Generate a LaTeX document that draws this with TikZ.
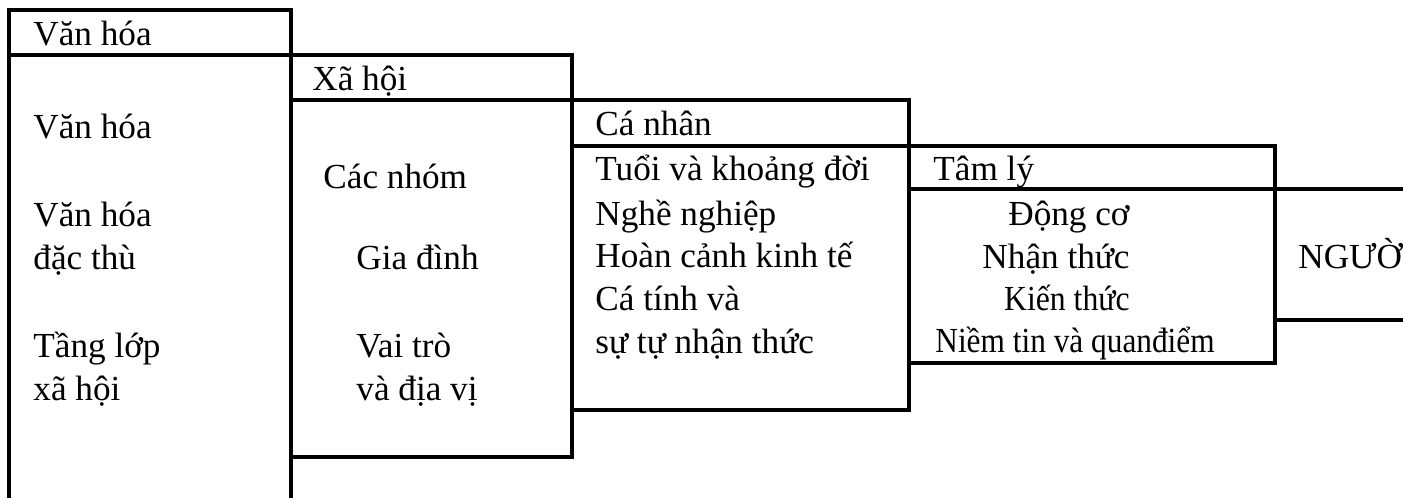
\documentclass[tikz,border=0pt]{standalone}
\usepackage{fontspec}
\setmainfont{Liberation Serif}
\usepackage{graphicx}
\begin{document}
\begin{tikzpicture}[x=0.5pt,y=-0.5pt,
  box/.style={line width=1.6pt, line join=miter},
  lbl/.style={anchor=base west, inner sep=0pt, font=\fontsize{17.6}{21}\selectfont},
  rlbl/.style={anchor=base east, inner sep=0pt, font=\fontsize{17.6}{21}\selectfont}]
\useasboundingbox (0,0) rectangle (1403,498);
\clip (0,0) rectangle (1403,498);
% boxes
\draw[box] (9,10) rectangle (291,530);
\draw[box] (9,55) -- (291,55);
\draw[box] (291,55) rectangle (572,457);
\draw[box] (291,100) -- (572,100);
\draw[box] (572,100) rectangle (909,410);
\draw[box] (572,146) -- (909,146);
\draw[box] (909,146) rectangle (1275,363);
\draw[box] (909,189) -- (1275,189);
\draw[box] (1275,189) rectangle (1440,320);
% box 1
\node[lbl] (h1) at (33,45) {Văn hóa};
\node[lbl] (a1) at (33,138) {Văn hóa};
\node[lbl] (a2) at (33,226) {Văn hóa};
\node[lbl] (a3) at (33,269) {đặc thù};
\node[lbl] (a4) at (33,357) {Tầng lớp};
\node[lbl] (a5) at (33,400) {xã hội};
% box 2
\node[lbl] (h2) at (312,90) {Xã hội};
\node[lbl] (b1) at (323,188) {Các nhóm};
\node[lbl] (b2) at (356,269) {Gia đình};
\node[lbl] (b3) at (356,357) {Vai trò};
\node[lbl] (b4) at (356,400) {và địa vị};
% box 3
\node[lbl] (h3) at (595,135) {Cá nhân};
\node[lbl] (c1) at (595,180) {Tuổi và khoảng đời};
\node[lbl] (c2) at (595,225) {Nghề nghiệp};
\node[lbl] (c3) at (595,267) {Hoàn cảnh kinh tế};
\node[lbl] (c4) at (595,310) {Cá tính và};
\node[lbl] (c5) at (595,353) {sự tự nhận thức};
% box 4
\node[lbl] (h4) at (933,180) {Tâm lý};
\node[rlbl] (d1) at (1130,225) {Động cơ};
\node[rlbl] (d2) at (1130,268) {Nhận thức};
\node[rlbl] (d3) at (1130,310) {\scalebox{0.9}[1]{Kiến thức}};
\node[lbl] (d4) at (935,352) {\scalebox{0.89}[1]{Niềm tin và quanđiểm}};
% box 5
\node[lbl] (e1) at (1298,268) {NGƯỜ};
\end{tikzpicture}
\end{document}
